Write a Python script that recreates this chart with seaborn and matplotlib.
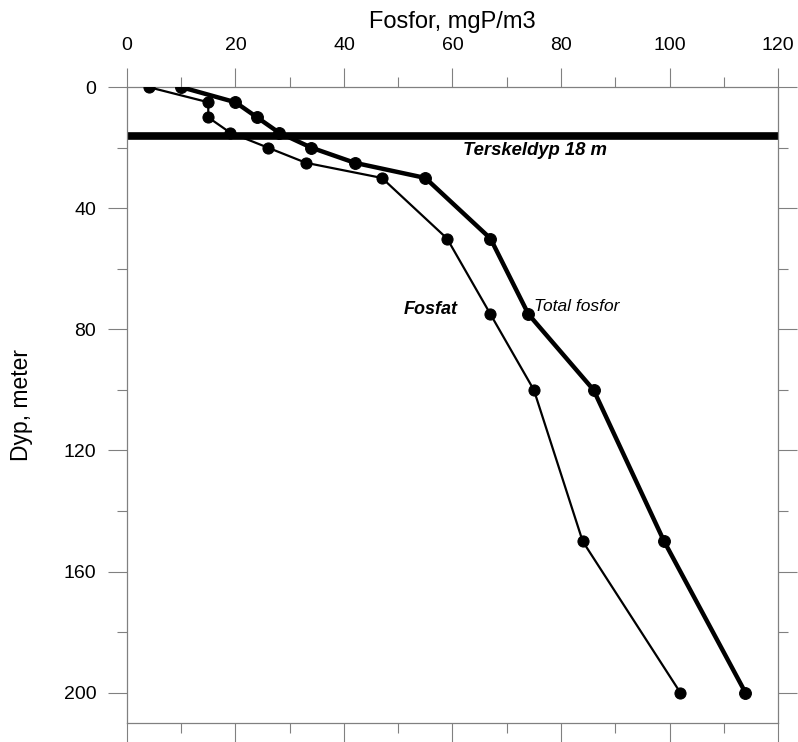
import matplotlib
matplotlib.use("Agg")
import matplotlib.pyplot as plt
import seaborn as sns
from matplotlib.ticker import MultipleLocator

# Values
depth = [0, 5, 10, 15, 20, 25, 30, 50, 75, 100, 150, 200]
fosfat = [4, 15, 15, 19, 26, 33, 47, 59, 67, 75, 84, 102]
total_fosfor = [10, 20, 24, 28, 34, 42, 55, 67, 74, 86, 99, 114]
terskel_depth = 16

sns.set_style("white")
plt.rcParams['font.family'] = ['Liberation Sans', 'DejaVu Sans']
plt.rcParams['text.color'] = 'black'
plt.rcParams['axes.labelcolor'] = 'black'
plt.rcParams['xtick.labelcolor'] = 'black'
plt.rcParams['ytick.labelcolor'] = 'black'

fig = plt.figure(figsize=(7.98, 7.42), dpi=100)
ax = fig.add_axes([0.159, 0.0256, 0.816, 0.857])

# Threshold line
ax.axhline(terskel_depth, color='black', lw=5.5, zorder=2)

# Profiles
sns.lineplot(x=fosfat, y=depth, sort=False, estimator=None, ax=ax,
             color='black', lw=1.6, marker='o', markersize=8,
             markeredgecolor='black', zorder=3)
sns.lineplot(x=total_fosfor, y=depth, sort=False, estimator=None, ax=ax,
             color='black', lw=3.2, marker='o', markersize=8.5,
             markeredgecolor='black', zorder=3)

ax.set_xlim(0, 120)
ax.set_ylim(210, 0)

ax.xaxis.set_major_locator(MultipleLocator(20))
ax.xaxis.set_minor_locator(MultipleLocator(10))
ax.yaxis.set_major_locator(MultipleLocator(40))
ax.yaxis.set_minor_locator(MultipleLocator(20))

ax.tick_params(axis='x', which='both', top=True, bottom=True,
               labeltop=True, labelbottom=False, direction='out')
ax.tick_params(axis='y', which='both', left=True, right=True,
               labelleft=True, labelright=False, direction='out')
ax.tick_params(which='major', length=14, width=0.8, color='0.5',
               labelsize=14)
ax.tick_params(which='minor', length=7, width=0.8, color='0.5')
ax.tick_params(axis='x', which='major', pad=10)
ax.tick_params(axis='y', which='major', pad=8)

for s in ax.spines.values():
    s.set_visible(True)
    s.set_color('0.5')
    s.set_linewidth(0.9)

ax.xaxis.set_label_position('top')
ax.set_xlabel('Fosfor, mgP/m3', fontsize=17)
ax.xaxis.set_label_coords(0.5, 1.093)
ax.set_ylabel('Dyp, meter', fontsize=16.5, labelpad=22)

# Annotations
ax.text(62, 21, 'Terskeldyp 18 m', fontsize=13.3, fontstyle='italic',
        fontweight='bold', va='center', ha='left')
ax.text(51, 73.5, 'Fosfat', fontsize=13, fontstyle='italic',
        fontweight='bold', va='center', ha='left')
ax.text(75, 72.5, 'Total fosfor', fontsize=12.5, fontstyle='italic',
        va='center', ha='left')

fig.savefig('out.png', dpi=100)
